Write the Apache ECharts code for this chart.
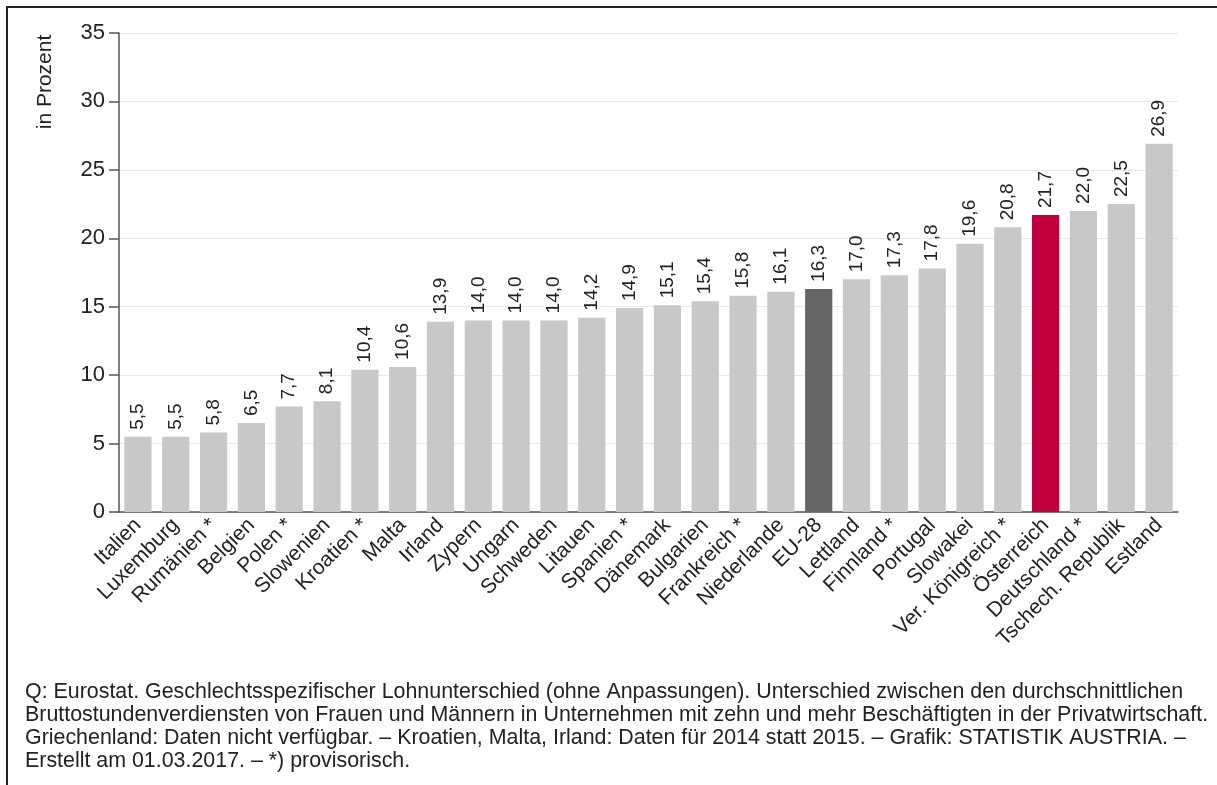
<!DOCTYPE html>
<html>
<head>
<meta charset="utf-8">
<script src="https://cdn.jsdelivr.net/npm/echarts@6/dist/echarts.min.js"></script>
<style>
  html, body { margin: 0; padding: 0; background: #fff; }
  #chart { width: 1217px; height: 785px; }
</style>
</head>
<body>
<div id="chart"></div>
<script>
const countries = ['Italien', 'Luxemburg', 'Rumänien *', 'Belgien', 'Polen *', 'Slowenien', 'Kroatien *', 'Malta', 'Irland', 'Zypern', 'Ungarn', 'Schweden', 'Litauen', 'Spanien *', 'Dänemark', 'Bulgarien', 'Frankreich *', 'Niederlande', 'EU-28', 'Lettland', 'Finnland *', 'Portugal', 'Slowakei', 'Ver. Königreich *', 'Österreich', 'Deutschland *', 'Tschech. Republik', 'Estland'];
const gap = [5.5, 5.5, 5.8, 6.5, 7.7, 8.1, 10.4, 10.6, 13.9, 14.0, 14.0, 14.0, 14.2, 14.9, 15.1, 15.4, 15.8, 16.1, 16.3, 17.0, 17.3, 17.8, 19.6, 20.8, 21.7, 22.0, 22.5, 26.9];
const highlight = { 'EU-28': '#666666', 'Österreich': '#c0003c' };
const footnote = [
  'Q: Eurostat. Geschlechtsspezifischer Lohnunterschied (ohne Anpassungen). Unterschied zwischen den durchschnittlichen',
  'Bruttostundenverdiensten von Frauen und Männern in Unternehmen mit zehn und mehr Beschäftigten in der Privatwirtschaft.',
  'Griechenland: Daten nicht verfügbar. – Kroatien, Malta, Irland: Daten für 2014 statt 2015. – Grafik: STATISTIK AUSTRIA. –',
  'Erstellt am 01.03.2017. – *) provisorisch.'
];

const font = 'Liberation Sans, Arial, sans-serif';
const chart = echarts.init(document.getElementById('chart'));

chart.setOption({
  animation: false,
  textStyle: { fontFamily: font },
  grid: { left: 119, right: 39, top: 33, bottom: 273 },
  title: {
    text: footnote.join('\n'),
    left: 25,
    top: 681,
    padding: 0,
    textStyle: { fontSize: 21.4, fontWeight: 'normal', color: '#222', lineHeight: 23, fontFamily: font }
  },
  graphic: [
    {
      type: 'rect',
      shape: { x: 7, y: 7, width: 1230, height: 800 },
      style: { fill: 'none', stroke: '#222', lineWidth: 2 },
      silent: true
    },
    {
      type: 'text',
      x: 45, y: 82,
      rotation: Math.PI / 2,
      style: { text: 'in Prozent', fontSize: 21, fill: '#222', align: 'center', verticalAlign: 'middle', fontFamily: font }
    }
  ],
  xAxis: {
    type: 'category',
    data: countries,
    axisLine: { lineStyle: { color: '#555', width: 1.5 } },
    axisTick: { show: false },
    axisLabel: { rotate: 45, interval: 0, fontSize: 21, color: '#222', margin: 10 }
  },
  yAxis: {
    type: 'value',
    min: 0, max: 35, interval: 5,
    axisLine: { show: true, lineStyle: { color: '#555', width: 1.5 } },
    axisTick: { show: true, length: 10, lineStyle: { color: '#555', width: 1.5 } },
    axisLabel: { fontSize: 22, color: '#222', margin: 14 },
    splitLine: { lineStyle: { color: '#e8e8e8' } }
  },
  series: [{
    type: 'bar',
    barCategoryGap: '28%',
    data: gap.map((v, i) => ({
      value: v,
      itemStyle: { color: highlight[countries[i]] || '#c8c8c8' }
    })),
    label: {
      show: true,
      position: 'top',
      rotate: 90,
      align: 'left',
      verticalAlign: 'middle',
      distance: 7,
      fontSize: 19,
      color: '#222',
      formatter: p => p.value.toFixed(1).replace('.', ',')
    }
  }]
});
</script>
</body>
</html>
